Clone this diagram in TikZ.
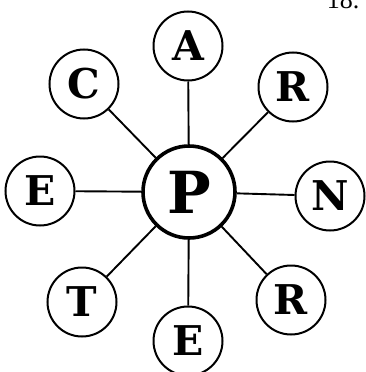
\documentclass[tikz,border=0pt]{standalone}
\usepackage{fontspec}
\setmainfont{DejaVu Serif}
\newfontfamily\numfont{Liberation Serif}
\tikzset{
  outer/.style={circle,draw,line width=2pt,minimum size=69pt,inner sep=0pt,font=\bfseries\fontsize{41}{41}\selectfont},
  hub/.style={circle,draw,line width=3.6pt,minimum size=92pt,inner sep=0pt,font=\bfseries\fontsize{58}{58}\selectfont},
  spoke/.style={line width=1.9pt}
}
\begin{document}
\begin{tikzpicture}[x=1pt,y=-1pt]
\useasboundingbox (0,0) rectangle (366,372);
\node[hub] (P) at (189,192) {P};
\node[outer] (A) at (188,46) {A};
\node[outer] (C) at (84,84) {C};
\node[outer] (R1) at (293,87) {R};
\node[outer] (E1) at (40,191) {E};
\node[outer] (N) at (330,196) {N};
\node[outer] (T) at (82,302) {T};
\node[outer] (R2) at (291,300) {R};
\node[outer] (E2) at (188,341) {E};
\foreach \n in {A,C,R1,E1,N,T,R2,E2} \draw[spoke] (P) -- (\n);
\node[font=\numfont\fontsize{26}{26}\selectfont,anchor=base east] (lbl) at (363,9) {18.};
\end{tikzpicture}
\end{document}
